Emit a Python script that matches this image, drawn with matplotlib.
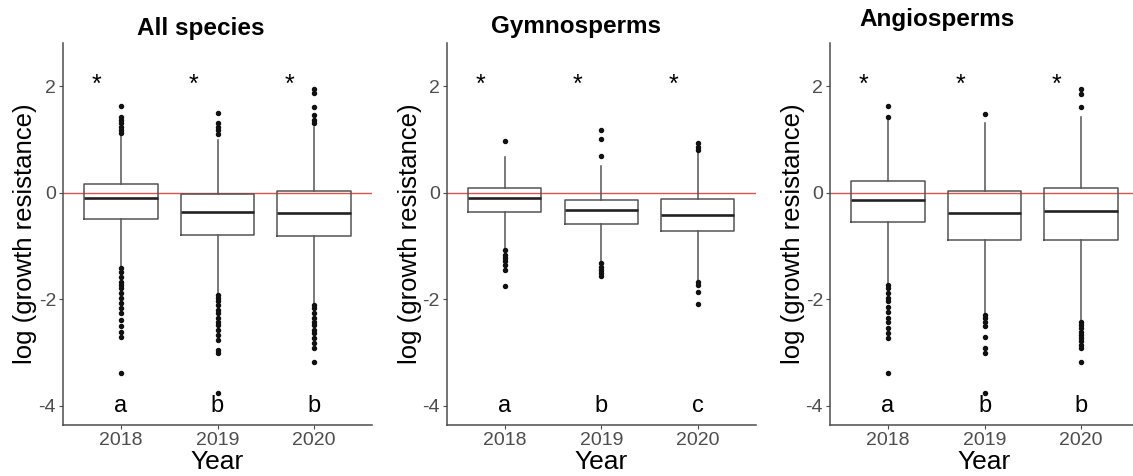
import matplotlib
matplotlib.use("Agg")
import matplotlib.pyplot as plt

plt.rcParams['font.family'] = ['Liberation Sans', 'DejaVu Sans']

years = ["2018", "2019", "2020"]
panel_titles = ["All species", "Gymnosperms", "Angiosperms"]
letters = [["a", "b", "b"], ["a", "b", "c"], ["a", "b", "b"]]

# Box summaries per panel: one value per year
all_q1 = [-0.49, -0.79, -0.81]
all_med = [-0.105, -0.36, -0.39]
all_q3 = [0.16, -0.03, 0.03]
all_whislo = [-1.39, -1.89, -2.07]
all_whishi = [1.08, 0.99, 1.24]
all_fliers = [
    [1.625, 1.425, 1.36, 1.30, 1.24, 1.175, 1.125,
     -1.42, -1.48, -1.575, -1.67, -1.73, -1.79, -1.89, -1.98, -2.075, -2.17,
     -2.26, -2.39, -2.51, -2.61, -2.70, -3.39],
    [1.49, 1.30, 1.24, 1.175, 1.11,
     -1.92, -1.98, -2.04, -2.11, -2.20, -2.26, -2.36, -2.42, -2.48, -2.575,
     -2.67, -2.76, -2.95, -3.01, -3.76],
    [1.94, 1.875, 1.61, 1.46, 1.36, 1.30,
     -2.11, -2.17, -2.26, -2.36, -2.42, -2.48, -2.575, -2.64, -2.73, -2.825,
     -2.92, -3.17],
]

gym_q1 = [-0.36, -0.59, -0.725]
gym_med = [-0.09, -0.33, -0.425]
gym_q3 = [0.08, -0.1375, -0.12]
gym_whislo = [-1.06, -1.29, -1.64]
gym_whishi = [0.675, 0.50, 0.77]
gym_fliers = [
    [0.975, -1.075, -1.17, -1.23, -1.29, -1.36, -1.45, -1.76],
    [1.175, 1.00, 0.69, -1.325, -1.39, -1.45, -1.51, -1.56],
    [0.925, 0.86, 0.80, -1.67, -1.73, -1.86, -2.09],
]

ang_q1 = [-0.55, -0.89, -0.89]
ang_med = [-0.1375, -0.39, -0.34]
ang_q3 = [0.22, 0.03, 0.09]
ang_whislo = [-1.70, -2.26, -2.39]
ang_whishi = [1.36, 1.31, 1.42]
ang_fliers = [
    [1.625, 1.425,
     -1.73, -1.79, -1.89, -1.98, -2.04, -2.14, -2.23, -2.36, -2.42, -2.54,
     -2.64, -2.73, -3.39],
    [1.47, -2.29, -2.36, -2.42, -2.51, -2.70, -2.92, -3.00, -3.76],
    [1.94, 1.86, 1.61,
     -2.42, -2.48, -2.54, -2.61, -2.67, -2.73, -2.79, -2.86, -2.92, -3.17],
]

panels = [
    (all_q1, all_med, all_q3, all_whislo, all_whishi, all_fliers),
    (gym_q1, gym_med, gym_q3, gym_whislo, gym_whishi, gym_fliers),
    (ang_q1, ang_med, ang_q3, ang_whislo, ang_whishi, ang_fliers),
]

W, H = 1133, 476
fig = plt.figure(figsize=(W / 100, H / 100), dpi=100)

axes_left_px = [63, 446.7, 830]
axes_w_px = 309
axes_top_px, axes_bot_px = 43, 425
title_pos_px = [(200.5, 34.5), (576, 33.5), (937.5, 26)]
ylab_x_px = [25, 410, 793]

grey = "#4d4d4d"
box_col = "#555555"

for i, (q1, med, q3, wlo, whi, fl) in enumerate(panels):
    left = axes_left_px[i] / W
    bottom = 1 - axes_bot_px / H
    ax = fig.add_axes([left, bottom, axes_w_px / W, (axes_bot_px - axes_top_px) / H])

    stats = []
    for j in range(3):
        stats.append(dict(q1=q1[j], med=med[j], q3=q3[j],
                          whislo=wlo[j], whishi=whi[j], fliers=fl[j]))
    ax.axhline(0, color="#d9534f", lw=1.0, zorder=1)
    ax.bxp(stats, positions=[1, 2, 3], widths=0.76, showcaps=False,
           patch_artist=False,
           boxprops=dict(color=box_col, lw=1.1),
           whiskerprops=dict(color=box_col, lw=1.1),
           medianprops=dict(color="#222222", lw=1.9),
           flierprops=dict(marker="o", markersize=2.9, markerfacecolor="#111111",
                           markeredgecolor="#111111", linestyle="none"))

    ax.set_xlim(0.4, 3.6)
    ax.set_ylim(-4.36, 2.81)
    ax.set_xticks([1, 2, 3])
    ax.set_xticklabels(years)
    ax.set_yticks([-4, -2, 0, 2])
    ax.set_yticklabels(["-4", "-2", "0", "2"])
    ax.tick_params(axis="both", colors=grey, labelsize=14, length=3, width=0.8,
                   labelcolor=grey, pad=2)
    for s in ["top", "right"]:
        ax.spines[s].set_visible(False)
    for s in ["left", "bottom"]:
        ax.spines[s].set_color(grey)
        ax.spines[s].set_linewidth(1.1)

    for j in range(3):
        ax.text(j + 0.75, 2.03, "*", ha="center", va="center", fontsize=18,
                color="black")
        ax.text(j + 1, -4.0, letters[i][j], ha="center", va="center",
                fontsize=17, color="black")

    tx, ty = title_pos_px[i]
    fig.text(tx / W, 1 - ty / H, panel_titles[i], ha="center", va="baseline",
             fontsize=17.5, fontweight="bold", color="black")
    fig.text(ylab_x_px[i] / W, 1 - 234 / H, "log (growth resistance)",
             rotation=90, ha="center", va="center", fontsize=18.5, color="black")
    fig.text((axes_left_px[i] + 154.5) / W, 1 - 462 / H, "Year",
             ha="center", va="center", fontsize=19, color="black")

fig.savefig("out.png", dpi=100)
